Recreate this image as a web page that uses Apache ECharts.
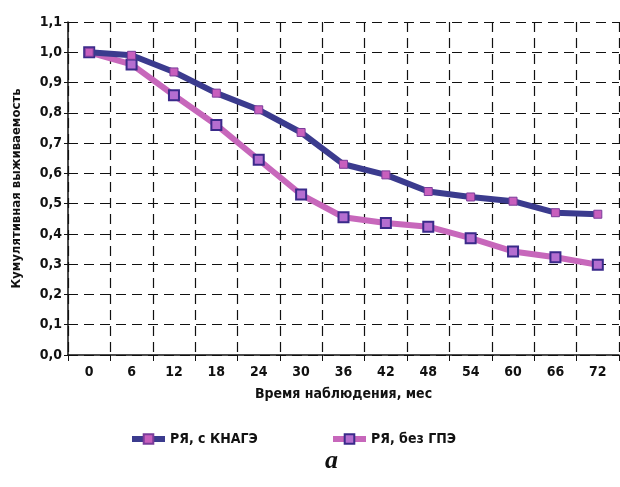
<!DOCTYPE html>
<html><head><meta charset="utf-8">
<script src="https://cdn.jsdelivr.net/npm/echarts@6/dist/echarts.min.js"></script>
<style>html,body{margin:0;padding:0;background:#fff}#c{width:620px;height:487px}</style>
</head><body><div id="c"></div>
<script>
const categories = ['0','6','12','18','24','30','36','42','48','54','60','66','72'];
const seriesA = [1.0, 0.99, 0.935, 0.865, 0.81, 0.735, 0.63, 0.595, 0.54, 0.522, 0.508, 0.47, 0.465];
const seriesB = [1.0, 0.96, 0.858, 0.76, 0.645, 0.53, 0.455, 0.436, 0.424, 0.386, 0.342, 0.323, 0.298];
const nameA = 'РЯ, с КНАГЭ';
const nameB = 'РЯ, без ГПЭ';
const font = '"DejaVu Sans Condensed", "Liberation Sans Narrow", "Arial Narrow", sans-serif';
const chart = echarts.init(document.getElementById('c'), null, {renderer:'canvas'});
const legendText = {fontFamily:font, fontSize:14, fontWeight:'bold', color:'#111'};
chart.setOption({
  animation:false,
  backgroundColor:'#fff',
  grid:{left:68, right:1, top:22, bottom:132},
  legend:[
    {top:427, left:124, itemWidth:33, itemHeight:12, textStyle:legendText, lineStyle:{width:6}, data:[nameA]},
    {top:427, left:325, itemWidth:33, itemHeight:12, textStyle:legendText, lineStyle:{width:6}, data:[nameB]}
  ],
  graphic:[{type:'text', left:325, top:448, style:{text:'a', font:'italic bold 26px "Liberation Serif", "DejaVu Serif", serif', fill:'#111'}}],
  xAxis:{
    type:'category', data:categories, boundaryGap:true,
    name:'Время наблюдения, мес', nameLocation:'middle', nameGap:32,
    nameTextStyle:{fontFamily:font, fontSize:14, fontWeight:'bold', color:'#111'},
    axisLine:{lineStyle:{color:'#111', width:1.5}},
    axisTick:{show:true, length:6, lineStyle:{color:'#111'}},
    axisLabel:{fontFamily:font, fontSize:14, fontWeight:'bold', color:'#111', margin:10},
    splitLine:{show:true, interval:0, lineStyle:{color:'#111', type:[10,6], width:1.2}}
  },
  yAxis:{
    type:'value', min:0, max:1.1, interval:0.1,
    name:'Кумулятивная выживаемость', nameLocation:'middle', nameGap:45,
    nameTextStyle:{fontFamily:font, fontSize:13, fontWeight:'bold', color:'#111'},
    axisLine:{show:true, lineStyle:{color:'#111', width:1.5}},
    axisTick:{show:true, length:4, lineStyle:{color:'#111'}},
    axisLabel:{fontFamily:font, fontSize:14, fontWeight:'bold', color:'#111', margin:6,
      formatter:v=>v.toFixed(1).replace('.',',')},
    splitLine:{show:true, lineStyle:{color:'#111', type:[10,6], width:1.2}}
  },
  series:[
    {name:nameA, type:'line', data:seriesA, symbol:'rect', symbolSize:8,
     lineStyle:{color:'#3b3b8e', width:6}, itemStyle:{color:'#c85fbd', borderColor:'#7a3c9a', borderWidth:1}, z:3},
    {name:nameB, type:'line', data:seriesB, symbol:'rect', symbolSize:10,
     lineStyle:{color:'#c767bb', width:6}, itemStyle:{color:'#b46ed0', borderColor:'#3a2a8a', borderWidth:2}, z:2}
  ]
});
</script></body></html>
